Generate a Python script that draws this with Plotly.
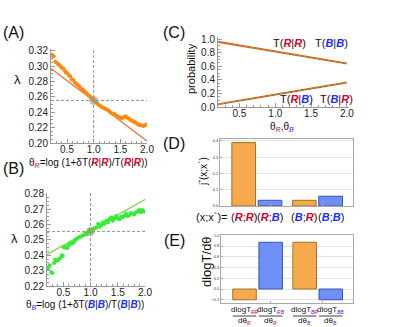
import plotly.graph_objects as go

RED = "#d4002a"
BLUE = "#1a2cff"
ORANGE_PTS = "#ff8a12"
ORANGE_LINE = "#f26a35"
GREEN_PTS = "#33ee33"
GREEN_LINE = "#66dd33"
BAR_ORANGE = "#f5aa4b"
BAR_BLUE = "#6e8ff5"

# panel A: lambda vs theta_R
a_theta = [0.21, 0.23, 0.25, 0.28, 0.30, 0.33, 0.35, 0.38, 0.40, 0.43, 0.46, 0.48, 0.51, 0.54,
           0.56, 0.59, 0.62, 0.65, 0.68, 0.70, 0.73, 0.76, 0.79, 0.82, 0.85, 0.88, 0.91, 0.94,
           0.97, 1.00, 1.03, 1.06, 1.09, 1.12, 1.15, 1.18, 1.21, 1.24, 1.27, 1.30, 1.33, 1.36,
           1.39, 1.42, 1.45, 1.48, 1.51, 1.54, 1.57, 1.60, 1.63, 1.66, 1.69, 1.72, 1.75, 1.78,
           1.81, 1.84, 1.87, 1.90, 1.93, 1.96, 1.99]
a_lambda = [0.315, 0.314, 0.313, 0.306, 0.305, 0.303, 0.302, 0.300, 0.298, 0.297, 0.294, 0.292,
            0.291, 0.288, 0.287, 0.283, 0.282, 0.279, 0.277, 0.276, 0.274, 0.271, 0.270, 0.268,
            0.266, 0.264, 0.262, 0.260, 0.258, 0.256, 0.254, 0.252, 0.250, 0.249, 0.247, 0.246,
            0.245, 0.244, 0.243, 0.241, 0.239, 0.238, 0.238, 0.236, 0.235, 0.234, 0.232, 0.233,
            0.234, 0.235, 0.233, 0.232, 0.230, 0.229, 0.228, 0.227, 0.225, 0.224, 0.223, 0.223,
            0.222, 0.223, 0.224]
a_fit_x = [0.2, 2.0]
a_fit_y = [0.297, 0.2025]

# panel B: lambda vs theta_B
b_theta = [0.21, 0.23, 0.25, 0.28, 0.30, 0.33, 0.35, 0.38, 0.41, 0.44, 0.47, 0.49, 0.51, 0.54,
           0.57, 0.60, 0.63, 0.66, 0.69, 0.72, 0.75, 0.78, 0.81, 0.84, 0.87, 0.90, 0.93, 0.96,
           0.99, 1.02, 1.05, 1.08, 1.11, 1.14, 1.17, 1.20, 1.23, 1.26, 1.29, 1.32, 1.35, 1.38,
           1.41, 1.44, 1.47, 1.50, 1.53, 1.56, 1.59, 1.62, 1.65, 1.68, 1.71, 1.74, 1.77, 1.80,
           1.83, 1.86, 1.89, 1.92, 1.95, 1.98]
b_lambda = [0.231, 0.232, 0.2335, 0.229, 0.2285, 0.235, 0.237, 0.2365, 0.237, 0.238, 0.240,
            0.2395, 0.245, 0.2455, 0.2445, 0.2465, 0.248, 0.2475, 0.2485, 0.250, 0.2505, 0.2515,
            0.252, 0.2525, 0.253, 0.2545, 0.2535, 0.255, 0.2565, 0.2555, 0.257, 0.2575, 0.258,
            0.2605, 0.2585, 0.2595, 0.2615, 0.2605, 0.2625, 0.2615, 0.2635, 0.2645, 0.2625, 0.264,
            0.2655, 0.264, 0.2635, 0.265, 0.2645, 0.2655, 0.267, 0.2655, 0.266, 0.2675, 0.267,
            0.2665, 0.268, 0.2685, 0.2695, 0.268, 0.2695, 0.2685]
b_fit_x = [0.2, 2.0]
b_fit_y = [0.2405, 0.2763]

theta0 = 1.0
lambda0 = 0.2555

# panel C: transition probabilities
c_theta = [0.2, 0.5, 1.0, 1.5, 2.0]
c_stay = [0.96, 0.905, 0.815, 0.725, 0.64]
c_switch = [0.04, 0.095, 0.185, 0.275, 0.36]

# panel D and E: bars
bar_cats = ["RR", "RB", "BR", "BB"]
d_values = [0.39, 0.035, 0.035, 0.06]
e_values = [-0.2, 0.87, 0.87, -0.2]
bar_fill = [BAR_ORANGE, BAR_BLUE, BAR_ORANGE, BAR_BLUE]
bar_edge = ["#a0702a", "#3a55b5", "#a0702a", "#3a55b5"]
bar_pos = [i + 1 + (0.3 if i >= 2 else 0) for i in range(len(bar_cats))]


def c(letter):
    col = RED if letter == "R" else BLUE
    return f'<span style="color:{col}"><b><i>{letter}</i></b></span>'


def sub(letters, size=None):
    style = f";font-size:{size}px" if size else ""
    return "".join(f'<span style="color:{RED if l == "R" else BLUE}{style}"><i>{l}</i></span>'
                   for l in letters)


W, H = 399, 327


def px(x):
    return x / W


def py(y):
    return 1 - y / H


FONT = "Liberation Sans, Arial, sans-serif"
REF_DASH = dict(color="#777", width=0.8, dash="3px,2px")

fig = go.Figure()

# A
fig.add_trace(go.Scatter(x=[theta0, theta0], y=[0.2, 0.3225], mode="lines",
                         line=REF_DASH, xaxis="x", yaxis="y"))
fig.add_trace(go.Scatter(x=[0.2, 2.0], y=[lambda0, lambda0], mode="lines",
                         line=REF_DASH, xaxis="x", yaxis="y"))
fig.add_trace(go.Scatter(x=a_fit_x, y=a_fit_y, mode="lines",
                         line=dict(color=ORANGE_LINE, width=1.2), xaxis="x", yaxis="y"))
fig.add_trace(go.Scatter(x=a_theta, y=a_lambda, mode="markers",
                         marker=dict(color=ORANGE_PTS, size=4), xaxis="x", yaxis="y"))
fig.add_trace(go.Scatter(x=[theta0], y=[lambda0], mode="markers",
                         marker=dict(color="rgba(150,150,115,0.6)", size=9), xaxis="x", yaxis="y"))

# B
fig.add_trace(go.Scatter(x=[theta0, theta0], y=[0.22, 0.2805], mode="lines",
                         line=REF_DASH, xaxis="x2", yaxis="y2"))
fig.add_trace(go.Scatter(x=[0.2, 2.0], y=[lambda0, lambda0], mode="lines",
                         line=REF_DASH, xaxis="x2", yaxis="y2"))
fig.add_trace(go.Scatter(x=b_fit_x, y=b_fit_y, mode="lines",
                         line=dict(color=GREEN_LINE, width=1.2), xaxis="x2", yaxis="y2"))
fig.add_trace(go.Scatter(x=b_theta, y=b_lambda, mode="markers",
                         marker=dict(color=GREEN_PTS, size=4), xaxis="x2", yaxis="y2"))
fig.add_trace(go.Scatter(x=[theta0], y=[lambda0], mode="markers",
                         marker=dict(color="rgba(150,150,115,0.6)", size=9), xaxis="x2", yaxis="y2"))

# C
for ys in (c_stay, c_switch):
    fig.add_trace(go.Scatter(x=c_theta, y=ys, mode="lines",
                             line=dict(color=ORANGE_LINE, width=2.2), xaxis="x3", yaxis="y3"))
    fig.add_trace(go.Scatter(x=c_theta, y=ys, mode="lines",
                             line=dict(color="#4a9a3a", width=1.2, dash="dot"), xaxis="x3", yaxis="y3"))

# D, E
fig.add_trace(go.Bar(x=bar_pos, y=d_values, width=0.9, marker=dict(color=bar_fill,
                     line=dict(color=bar_edge, width=1)), xaxis="x4", yaxis="y4"))
fig.add_trace(go.Bar(x=bar_pos, y=e_values, width=0.9, marker=dict(color=bar_fill,
                     line=dict(color=bar_edge, width=1)), xaxis="x5", yaxis="y5"))

line_ax = dict(showline=True, linecolor="#999", linewidth=1, ticks="inside", ticklen=4,
               tickcolor="#999", showgrid=False, zeroline=False, automargin=False,
               tickfont=dict(size=10, color="#222", family=FONT))
frame_ax = dict(showline=True, mirror=True, linecolor="#aaa", linewidth=1, ticks="inside",
                ticklen=2, tickcolor="#aaa", zeroline=False, automargin=False,
                tickfont=dict(size=4, color="#333", family=FONT))
minor_x = dict(ticks="inside", ticklen=2, dtick=0.1, tickcolor="#999")

fig.update_layout(
    template="none",
    width=W, height=H, margin=dict(l=0, r=0, t=0, b=0, pad=0), autosize=False,
    plot_bgcolor="white", paper_bgcolor="white", showlegend=False,
    font=dict(family=FONT, color="#222"),
    xaxis=dict(domain=[px(51), px(147)], range=[0.2, 2.0], tickvals=[0.5, 1.0, 1.5, 2.0],
               tickformat=".1f", anchor="y", ticklabelstandoff=-3, minor=minor_x, **line_ax),
    yaxis=dict(domain=[py(143), py(49)], range=[0.2, 0.3225], dtick=0.02, tickformat=".2f",
               anchor="x", minor=dict(ticks="inside", ticklen=2, dtick=0.005, tickcolor="#999"),
               **line_ax),
    xaxis2=dict(domain=[px(47), px(145)], range=[0.2, 2.0], tickvals=[0.5, 1.0, 1.5, 2.0],
                tickformat=".1f", anchor="y2", ticklabelstandoff=-3, minor=minor_x, **line_ax),
    yaxis2=dict(domain=[py(286), py(193)], range=[0.22, 0.2805], dtick=0.01, tickformat=".2f",
                anchor="x2", minor=dict(ticks="inside", ticklen=2, dtick=0.0025, tickcolor="#999"),
                **line_ax),
    xaxis3=dict(domain=[px(218), px(349)], range=[0.2, 2.03], tickvals=[0.5, 1.0, 1.5, 2.0],
                tickformat=".1f", anchor="y3", ticklabelstandoff=-3, minor=minor_x, **line_ax),
    yaxis3=dict(domain=[py(107), py(37)], range=[0, 1.03], dtick=0.2, tickformat=".1f",
                anchor="x3", minor=dict(ticks="inside", ticklen=2, dtick=0.05, tickcolor="#999"),
                **line_ax),
    xaxis4=dict(domain=[px(220), px(353)], range=[0.1, 5.15], showticklabels=False,
                showgrid=False, anchor="y4", **frame_ax),
    yaxis4=dict(domain=[py(206), py(139)], range=[0, 0.412], dtick=0.1, tickformat=".1f",
                showgrid=True, gridcolor="#e4e4e4", anchor="x4", **frame_ax),
    xaxis5=dict(domain=[px(221), px(353)], range=[0.1, 5.15], showticklabels=False,
                showgrid=False, anchor="y5", **frame_ax),
    yaxis5=dict(domain=[py(303), py(235)], range=[-0.26, 1.005], dtick=0.2, tickformat=".1f",
                showgrid=True, gridcolor="#e4e4e4", anchor="x5", **frame_ax),
)

ann = []


def note(text, x, y, size=10, xanchor="center", **kw):
    ann.append(dict(text=text, x=px(x), y=py(y), xref="paper", yref="paper", showarrow=False,
                    xanchor=xanchor, yanchor="middle",
                    font=dict(size=size, family=FONT, color="#111"), **kw))


# panel letters
note("(A)", 13, 32, 16)
note("(B)", 13, 168, 16)
note("(C)", 174, 32, 16)
note("(D)", 174, 143, 16)
note("(E)", 174, 240, 16)

# axis titles
note("λ", 17, 80, 13)
note("λ", 14, 238, 13)
note("θ<sub>" + sub("R") + "</sub>=log (1+δT(" + c("R") + "|" + c("R") + ")/T(" + c("R") + "|"
     + c("R") + "))", 88, 163, 10)
note("θ<sub>" + sub("B") + "</sub>=log (1+δT(" + c("B") + "|" + c("B") + ")/T(" + c("B") + "|"
     + c("B") + "))", 85, 305, 10)
note("probability", 191, 69, 11, textangle=-90)
note("θ<sub>" + sub("R") + "</sub>,θ<sub>" + sub("B") + "</sub>", 282, 127, 10)
note("j<sup>*</sup>(x;x`)", 203, 172, 10, textangle=-90)
note("dlogT/dθ", 206, 262, 13, textangle=-90)

# panel C curve labels
note("T(" + c("R") + "|" + c("R") + ")", 289, 43, 11)
note("T(" + c("B") + "|" + c("B") + ")", 331, 43, 11)
note("T(" + c("R") + "|" + c("B") + ")", 296, 99, 11)
note("T(" + c("B") + "|" + c("R") + ")", 336, 99, 11)

# panel D category labels
note("(x;x`)=", 229, 217, 11, xanchor="right")
for pos, cat in zip(bar_pos, bar_cats):
    ann.append(dict(text="(" + c(cat[0]) + ";" + c(cat[1]) + ")", x=pos, y=py(217), xref="x4",
                    yref="paper", showarrow=False, xanchor="center", yanchor="middle",
                    font=dict(size=11, family=FONT, color="#111")))

# panel E fraction labels
e_num = ["RR", "RB", "BR", "BB"]
e_den = ["R", "R", "B", "B"]
shapes = []
for pos, n, d in zip(bar_pos, e_num, e_den):
    ann.append(dict(text="dlogT<sub>" + sub(n, 5) + "</sub>", x=pos, y=py(310), xref="x5",
                    yref="paper", showarrow=False, xanchor="center", yanchor="middle",
                    font=dict(size=8, family=FONT, color="#111")))
    ann.append(dict(text="dθ<sub>" + sub(d, 5) + "</sub>", x=pos, y=py(321), xref="x5",
                    yref="paper", showarrow=False, xanchor="center", yanchor="middle",
                    font=dict(size=8, family=FONT, color="#111")))
    shapes.append(dict(type="line", xref="x5", yref="paper", x0=pos - 0.45, x1=pos + 0.45,
                       y0=py(316), y1=py(316), line=dict(color="#111", width=0.8)))

fig.update_layout(annotations=ann, shapes=shapes)

fig.write_html("out.html", config={"displayModeBar": False},
               post_script="document.body.style.margin='0';")
